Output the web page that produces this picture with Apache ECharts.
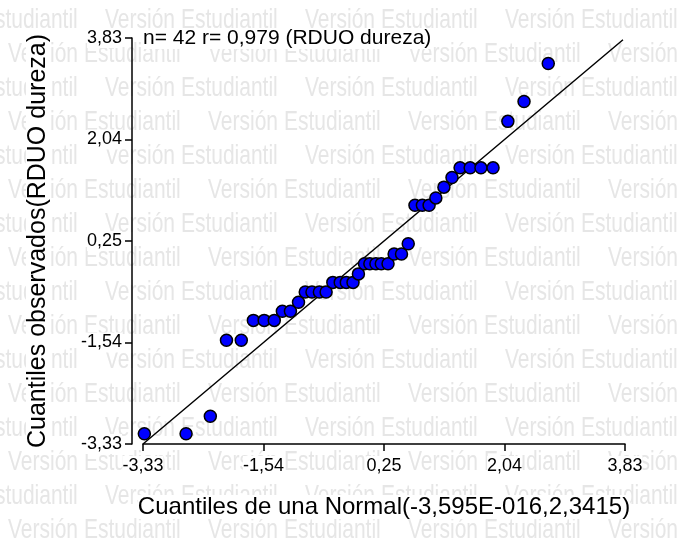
<!DOCTYPE html>
<html>
<head>
<meta charset="utf-8">
<script src="https://cdn.jsdelivr.net/npm/echarts@6/dist/echarts.min.js"></script>
<style>
  html, body { margin: 0; padding: 0; background: #fff; }
  #chart { width: 680px; height: 542px; }
</style>
</head>
<body>
<div id="chart"></div>
<script>
// cuantiles teoricos (normal) y observados
var normalQ = [-3.31, -2.69, -2.33, -2.09, -1.87, -1.69, -1.53, -1.38, -1.26, -1.14,
    -1.02, -0.92, -0.82, -0.71, -0.61, -0.51, -0.40, -0.31, -0.21, -0.13, -0.04,
    0.04, 0.13, 0.21, 0.31, 0.40, 0.51, 0.61, 0.71, 0.82, 0.92, 1.02, 1.14, 1.26,
    1.38, 1.53, 1.69, 1.87, 2.09, 2.33, 2.69, 3.31];
var observedQ = [-3.15, -3.15, -2.84, -1.50, -1.50, -1.15, -1.15, -1.15, -0.99, -0.99,
    -0.83, -0.65, -0.65, -0.65, -0.65, -0.48, -0.48, -0.48, -0.48, -0.33, -0.15,
    -0.15, -0.15, -0.15, -0.15, 0.02, 0.02, 0.20, 0.88, 0.88, 0.88, 1.01, 1.20, 1.37,
    1.54, 1.54, 1.54, 1.54, 2.36, 2.71, 3.38, 3.87];
var refLineX = [-3.33, 3.80];
var refLineY = [-3.33, 3.80];
var tickValues = [-3.33, -1.54, 0.25, 2.04, 3.83];

var font = 'Liberation Sans, Arial, sans-serif';

function fmt(v) {
    return '{t|' + Number(v).toFixed(2).replace('.', ',') + '}';
}

function renderChart(dom) {
    if (!dom) return;
    var myChart = echarts.init(dom);

    // marca de agua "Version Estudiantil"
    var marks = [];
    for (var r = 0; r < 16; r++) {
        var y = 20 + 34 * r;
        var x0 = r % 2 === 0 ? -95 : 8;
        for (var x = x0; x < 680; x += 200) {
            marks.push({
                type: 'text',
                x: x,
                y: y,
                scaleX: 0.75,
                z: -10,
                silent: true,
                style: {
                    text: 'Versión Estudiantil',
                    fontSize: 28,
                    fontFamily: font,
                    fill: '#e6e6e6',
                    verticalAlign: 'middle'
                }
            });
        }
    }

    var points = normalQ.map(function (v, i) { return [v, observedQ[i]]; });
    var line = refLineX.map(function (v, i) { return [v, refLineY[i]]; });

    var labelStyle = {
        customValues: tickValues,
        formatter: fmt,
        fontSize: 18,
        fontFamily: font,
        color: '#000',
        backgroundColor: '#fff',
        rich: {
            t: { fontSize: 18, fontFamily: font, color: '#000', lineHeight: 20 }
        }
    };

    var option = {
        backgroundColor: '#fff',
        animation: false,
        textStyle: { fontFamily: font, fontSize: 18, color: '#000' },
        graphic: marks,
        title: {
            text: 'n= 42 r= 0,979 (RDUO dureza)',
            left: 143,
            top: 28,
            padding: 0,
            backgroundColor: '#fff',
            textStyle: {
                fontSize: 21,
                fontWeight: 'normal',
                fontFamily: font,
                color: '#000'
            }
        },
        grid: {
            left: 143,
            right: 55,
            top: 38,
            bottom: 98,
            outerBoundsMode: 'none'
        },
        xAxis: {
            type: 'value',
            min: -3.33,
            max: 3.83,
            name: 'Cuantiles de una Normal(-3,595E-016,2,3415)',
            nameLocation: 'middle',
            nameGap: 51,
            nameTextStyle: {
                fontSize: 24,
                fontFamily: font,
                color: '#000',
                backgroundColor: '#fff'
            },
            axisLine: { onZero: false, lineStyle: { color: '#000', width: 1.5 } },
            axisTick: { show: true, length: 7, customValues: tickValues, lineStyle: { color: '#000', width: 1.5 } },
            axisLabel: Object.assign({ margin: 12 }, labelStyle),
            splitLine: { show: false }
        },
        yAxis: {
            type: 'value',
            min: -3.33,
            max: 3.83,
            offset: 11,
            name: 'Cuantiles observados(RDUO dureza)',
            nameLocation: 'middle',
            nameGap: 81,
            nameTextStyle: {
                fontSize: 25,
                fontFamily: font,
                color: '#000',
                backgroundColor: '#fff'
            },
            axisLine: { onZero: false, lineStyle: { color: '#000', width: 1.5 } },
            axisTick: { show: true, length: 7, customValues: tickValues, lineStyle: { color: '#000', width: 1.5 } },
            axisLabel: Object.assign({ margin: 10 }, labelStyle),
            splitLine: { show: false }
        },
        series: [
            {
                type: 'line',
                data: line,
                symbol: 'none',
                z: 1,
                lineStyle: { color: '#000', width: 1.5 }
            },
            {
                type: 'scatter',
                data: points,
                symbolSize: 12,
                z: 2,
                itemStyle: {
                    color: '#0000ff',
                    borderColor: '#000',
                    borderWidth: 1.5,
                    opacity: 1
                }
            }
        ]
    };

    option && myChart.setOption(option);
}

renderChart(document.getElementById('chart'));
</script>
</body>
</html>
